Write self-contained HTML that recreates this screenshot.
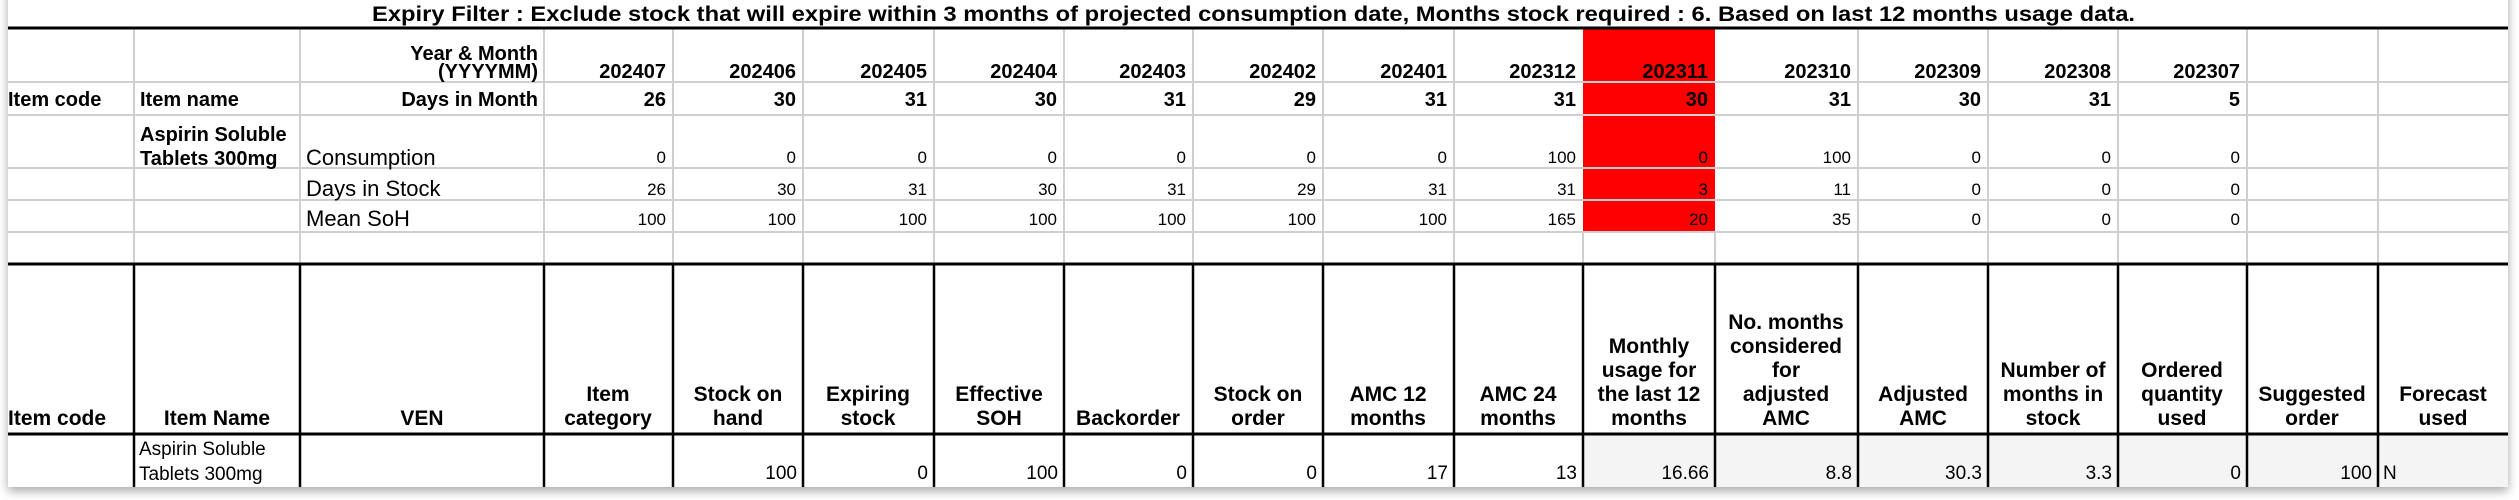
<!DOCTYPE html>
<html><head><meta charset="utf-8"><style>
html,body{margin:0;padding:0;background:#fff;}
svg{display:block;}
text{font-family:"Liberation Sans",sans-serif;}
.b{font-weight:bold;}
</style></head><body>
<svg width="2519" height="500" viewBox="0 0 2519 500" xmlns="http://www.w3.org/2000/svg">
<defs>
<filter id="sh" x="-5%" y="-5%" width="110%" height="120%"><feDropShadow dx="0" dy="4" stdDeviation="5" flood-color="#000" flood-opacity="0.35"/></filter>
</defs>
<rect x="0" y="0" width="2519" height="500" fill="#fff"/>
<rect x="8" y="-20" width="2500" height="507" fill="#fff" filter="url(#sh)"/>
<rect x="1583" y="434" width="925" height="53" fill="#f4f4f4"/>
<!-- red column -->
<rect x="1583" y="29" width="132" height="203" fill="#ff0000"/>
<!-- top grid -->
<g stroke="#cfcfcf" stroke-width="2">
<line x1="8" y1="82" x2="2508" y2="82"/><line x1="8" y1="115" x2="2508" y2="115"/>
<line x1="8" y1="168" x2="2508" y2="168"/><line x1="8" y1="200" x2="2508" y2="200"/>
<line x1="8" y1="232" x2="2508" y2="232"/>
<line x1="134" y1="29" x2="134" y2="264"/><line x1="300" y1="29" x2="300" y2="264"/>
<line x1="544" y1="29" x2="544" y2="264"/><line x1="673" y1="29" x2="673" y2="264"/>
<line x1="803" y1="29" x2="803" y2="264"/><line x1="934" y1="29" x2="934" y2="264"/>
<line x1="1064" y1="29" x2="1064" y2="264"/><line x1="1193" y1="29" x2="1193" y2="264"/>
<line x1="1323" y1="29" x2="1323" y2="264"/><line x1="1454" y1="29" x2="1454" y2="264"/>
<line x1="1583" y1="232" x2="1583" y2="264"/><line x1="1715" y1="232" x2="1715" y2="264"/>
<line x1="1858" y1="29" x2="1858" y2="264"/><line x1="1988" y1="29" x2="1988" y2="264"/>
<line x1="2118" y1="29" x2="2118" y2="264"/><line x1="2247" y1="29" x2="2247" y2="264"/>
<line x1="2378" y1="29" x2="2378" y2="264"/>
</g>
<!-- bottom grid -->
<g stroke="#000" stroke-width="2.5">
<line x1="8" y1="28" x2="2508" y2="28" stroke-width="3"/>
<line x1="8" y1="264" x2="2508" y2="264" stroke-width="3"/>
<line x1="8" y1="434" x2="2508" y2="434" stroke-width="3"/>
<line x1="134" y1="264" x2="134" y2="487"/><line x1="300" y1="264" x2="300" y2="487"/>
<line x1="544" y1="264" x2="544" y2="487"/><line x1="673" y1="264" x2="673" y2="487"/>
<line x1="803" y1="264" x2="803" y2="487"/><line x1="934" y1="264" x2="934" y2="487"/>
<line x1="1064" y1="264" x2="1064" y2="487"/><line x1="1193" y1="264" x2="1193" y2="487"/>
<line x1="1323" y1="264" x2="1323" y2="487"/><line x1="1454" y1="264" x2="1454" y2="487"/>
<line x1="1583" y1="264" x2="1583" y2="487"/><line x1="1715" y1="264" x2="1715" y2="487"/>
<line x1="1858" y1="264" x2="1858" y2="487"/><line x1="1988" y1="264" x2="1988" y2="487"/>
<line x1="2118" y1="264" x2="2118" y2="487"/><line x1="2247" y1="264" x2="2247" y2="487"/>
<line x1="2378" y1="264" x2="2378" y2="487"/>
</g>
<!-- title -->
<text class="b" x="372" y="21" font-size="21" textLength="1763" lengthAdjust="spacingAndGlyphs">Expiry Filter : Exclude stock that will expire within 3 months of projected consumption date, Months stock required : 6. Based on last 12 months usage data.</text>
<!-- top table labels -->
<g class="b" font-size="20">
<text x="538" y="60" text-anchor="end" font-weight="bold">Year &amp; Month</text>
<text x="538" y="78" text-anchor="end" font-weight="bold">(YYYYMM)</text>
<text x="8" y="106" font-weight="bold">Item code</text>
<text x="140" y="106" font-weight="bold">Item name</text>
<text x="538" y="106" text-anchor="end" font-weight="bold">Days in Month</text>
<text x="140" y="141" font-weight="bold">Aspirin Soluble</text>
<text x="140" y="165" font-weight="bold">Tablets 300mg</text>
</g>
<g font-size="22">
<text x="306" y="165">Consumption</text>
<text x="306" y="196">Days in Stock</text>
<text x="306" y="226">Mean SoH</text>
</g>
<g font-size="20" font-weight="bold" text-anchor="end">
<text x="666" y="78">202407</text><text x="796" y="78">202406</text><text x="927" y="78">202405</text><text x="1057" y="78">202404</text><text x="1186" y="78">202403</text><text x="1316" y="78">202402</text><text x="1447" y="78">202401</text><text x="1576" y="78">202312</text><text x="1708" y="78">202311</text><text x="1851" y="78">202310</text><text x="1981" y="78">202309</text><text x="2111" y="78">202308</text><text x="2240" y="78">202307</text>
<text x="666" y="106">26</text><text x="796" y="106">30</text><text x="927" y="106">31</text><text x="1057" y="106">30</text><text x="1186" y="106">31</text><text x="1316" y="106">29</text><text x="1447" y="106">31</text><text x="1576" y="106">31</text><text x="1708" y="106">30</text><text x="1851" y="106">31</text><text x="1981" y="106">30</text><text x="2111" y="106">31</text><text x="2240" y="106">5</text>
</g>
<g font-size="17" text-anchor="end">
<text x="666" y="163">0</text><text x="796" y="163">0</text><text x="927" y="163">0</text><text x="1057" y="163">0</text><text x="1186" y="163">0</text><text x="1316" y="163">0</text><text x="1447" y="163">0</text><text x="1576" y="163">100</text><text x="1708" y="163">0</text><text x="1851" y="163">100</text><text x="1981" y="163">0</text><text x="2111" y="163">0</text><text x="2240" y="163">0</text>
<text x="666" y="195">26</text><text x="796" y="195">30</text><text x="927" y="195">31</text><text x="1057" y="195">30</text><text x="1186" y="195">31</text><text x="1316" y="195">29</text><text x="1447" y="195">31</text><text x="1576" y="195">31</text><text x="1708" y="195">3</text><text x="1851" y="195">11</text><text x="1981" y="195">0</text><text x="2111" y="195">0</text><text x="2240" y="195">0</text>
<text x="666" y="225">100</text><text x="796" y="225">100</text><text x="927" y="225">100</text><text x="1057" y="225">100</text><text x="1186" y="225">100</text><text x="1316" y="225">100</text><text x="1447" y="225">100</text><text x="1576" y="225">165</text><text x="1708" y="225">20</text><text x="1851" y="225">35</text><text x="1981" y="225">0</text><text x="2111" y="225">0</text><text x="2240" y="225">0</text>
</g>
<!-- bottom header -->
<g font-size="21" font-weight="bold" text-anchor="middle">
<text x="8" y="425" text-anchor="start">Item code</text>
<text x="217" y="425">Item Name</text>
<text x="422" y="425">VEN</text>
<text x="608" y="401">Item</text><text x="608" y="425">category</text>
<text x="738" y="401">Stock on</text><text x="738" y="425">hand</text>
<text x="868" y="401">Expiring</text><text x="868" y="425">stock</text>
<text x="999" y="401">Effective</text><text x="999" y="425">SOH</text>
<text x="1128" y="425">Backorder</text>
<text x="1258" y="401">Stock on</text><text x="1258" y="425">order</text>
<text x="1388" y="401">AMC 12</text><text x="1388" y="425">months</text>
<text x="1518" y="401">AMC 24</text><text x="1518" y="425">months</text>
<text x="1649" y="353">Monthly</text><text x="1649" y="377">usage for</text><text x="1649" y="401">the last 12</text><text x="1649" y="425">months</text>
<text x="1786" y="329">No. months</text><text x="1786" y="353">considered</text><text x="1786" y="377">for</text><text x="1786" y="401">adjusted</text><text x="1786" y="425">AMC</text>
<text x="1923" y="401">Adjusted</text><text x="1923" y="425">AMC</text>
<text x="2053" y="377">Number of</text><text x="2053" y="401">months in</text><text x="2053" y="425">stock</text>
<text x="2182" y="377">Ordered</text><text x="2182" y="401">quantity</text><text x="2182" y="425">used</text>
<text x="2312" y="401">Suggested</text><text x="2312" y="425">order</text>
<text x="2443" y="401">Forecast</text><text x="2443" y="425">used</text>
</g>
<!-- data row -->
<g font-size="19">
<text x="139" y="455">Aspirin Soluble</text>
<text x="139" y="480">Tablets 300mg</text>
<text x="2383" y="479">N</text>
</g>
<g font-size="19" text-anchor="end">
<text x="797" y="479">100</text><text x="928" y="479">0</text><text x="1058" y="479">100</text><text x="1187" y="479">0</text><text x="1317" y="479">0</text><text x="1448" y="479">17</text><text x="1577" y="479">13</text><text x="1709" y="479">16.66</text><text x="1852" y="479">8.8</text><text x="1982" y="479">30.3</text><text x="2112" y="479">3.3</text><text x="2241" y="479">0</text><text x="2372" y="479">100</text>
</g>
</svg>
</body></html>
